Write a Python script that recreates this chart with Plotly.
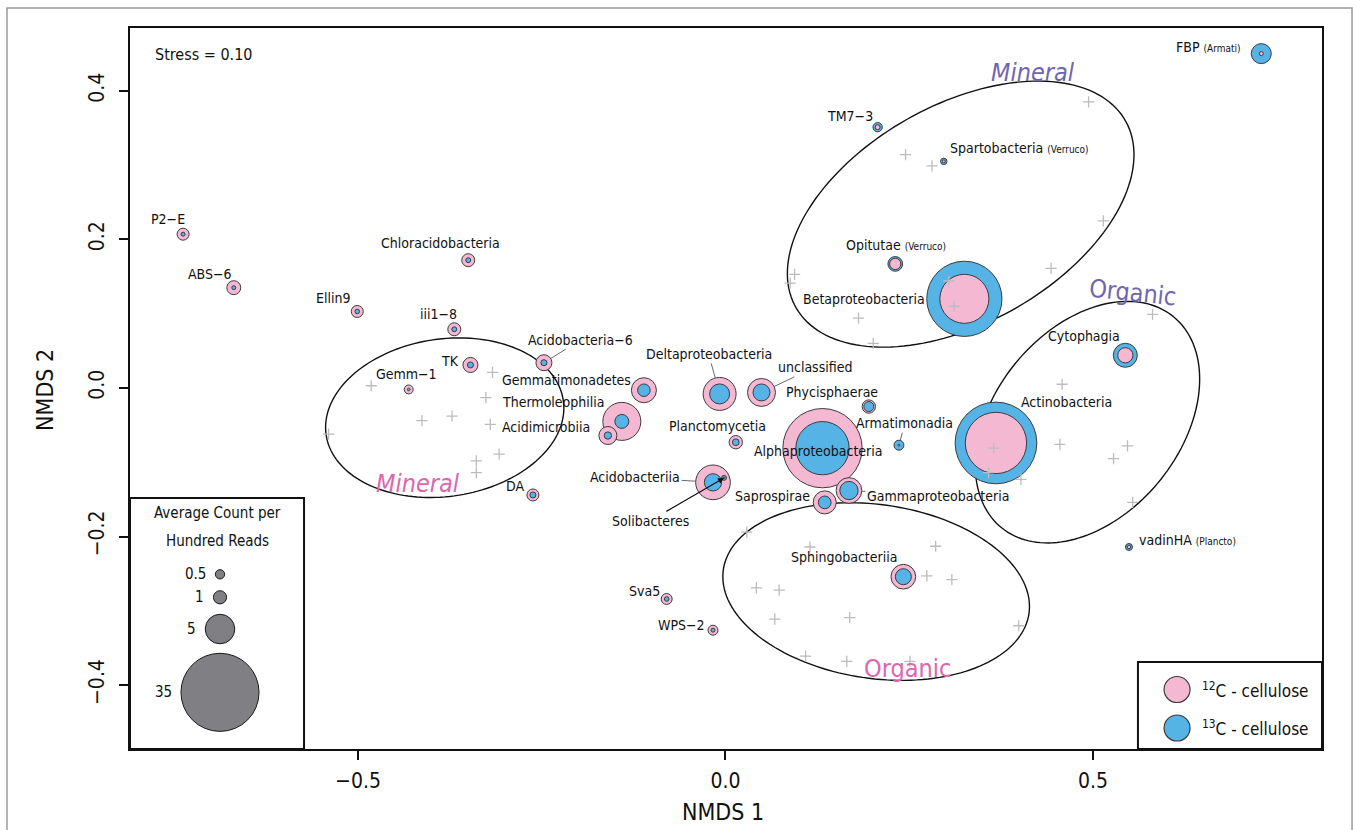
import numpy as np
import plotly.graph_objects as go

# ---------------------------------------------------------------- data
taxa = ["P2−E", "ABS−6", "Ellin9", "Chloracidobacteria", "iii1−8", "TK", "Gemm−1",
        "Acidobacteria−6", "Gemmatimonadetes", "Thermoleophilia", "Acidimicrobiia", "DA",
        "Deltaproteobacteria", "unclassified", "Phycisphaerae", "Planctomycetia",
        "Armatimonadia", "Alphaproteobacteria", "Acidobacteriia", "Solibacteres",
        "Saprospirae", "Gammaproteobacteria", "Sphingobacteriia", "Sva5", "WPS−2",
        "TM7−3", "Spartobacteria", "Opitutae", "Betaproteobacteria", "Cytophagia",
        "Actinobacteria", "vadinHA", "FBP"]
taxon_note = ["", "", "", "", "", "", "", "", "", "", "", "", "", "", "", "", "", "", "",
              "", "", "", "", "", "", "", "(Verruco)", "(Verruco)", "", "", "", "(Plancto)",
              "(Armati)"]
nmds1 = [-0.738, -0.669, -0.501, -0.350, -0.369, -0.347, -0.431, -0.247, -0.111, -0.141,
         -0.160, -0.262, -0.008, 0.049, 0.195, 0.014, 0.236, 0.132, -0.017, -0.002,
         0.135, 0.168, 0.242, -0.080, -0.017, 0.207, 0.297, 0.231, 0.325, 0.544,
         0.368, 0.549, 0.729]
nmds2 = [0.207, 0.135, 0.103, 0.172, 0.079, 0.031, -0.002, 0.034, -0.003, -0.045,
         -0.064, -0.144, -0.008, -0.006, -0.025, -0.073, -0.077, -0.081, -0.127, -0.121,
         -0.154, -0.138, -0.254, -0.284, -0.326, 0.351, 0.305, 0.167, 0.120, 0.044,
         -0.074, -0.214, 0.450]
# average count per hundred reads
count_12c = [0.83, 1.12, 0.83, 0.97, 0.97, 1.29, 0.46, 1.47, 3.59, 8.3, 1.86, 0.83,
             6.25, 4.5, 1.02, 1.02, 0.02, 36.1, 6.9, 0.02, 3.04, 3.79, 3.5, 0.69, 0.57,
             0.14, 0.05, 0.73, 13.8, 1.34, 21.6, 0.07, 0.09]
count_13c = [0.09, 0.09, 0.12, 0.14, 0.14, 0.21, 0.04, 0.21, 0.90, 1.12, 0.31, 0.21,
             2.30, 1.66, 0.57, 0.26, 0.57, 16.3, 1.72, 0.14, 0.93, 1.92, 1.47, 0.12, 0.09,
             0.50, 0.24, 1.24, 32.5, 3.31, 38.3, 0.28, 2.30]

# sample scores
sample_x = [-0.482, -0.317, -0.326, -0.413, -0.372, -0.320, -0.540, -0.308, -0.339, -0.339,
            0.494, 0.245, 0.281, 0.514, 0.443, 0.094, 0.088, 0.304, 0.311, 0.181, 0.201,
            0.581, 0.458, 0.455, 0.547, 0.528, 0.365, 0.358, 0.402, 0.554,
            0.029, 0.115, 0.286, 0.274, 0.308, 0.042, 0.073, 0.067, 0.169, 0.399, 0.109,
            0.165, 0.251]
sample_y = [0.003, 0.021, -0.013, -0.044, -0.038, -0.049, -0.062, -0.089, -0.098, -0.114,
            0.385, 0.314, 0.299, 0.225, 0.161, 0.153, 0.141, 0.144, 0.110, 0.094, 0.060,
            0.099, 0.005, -0.076, -0.078, -0.095, -0.081, -0.114, -0.123, -0.154,
            -0.194, -0.214, -0.213, -0.253, -0.258, -0.269, -0.272, -0.311, -0.309, -0.320,
            -0.361, -0.368, -0.368]

legend_counts = [0.5, 1, 5, 35]
x_ticks = [-0.5, 0.0, 0.5]
x_tick_text = ["−0.5", "0.0", "0.5"]
y_ticks = [-0.4, -0.2, 0.0, 0.2, 0.4]
y_tick_text = ["−0.4", "−0.2", "0.0", "0.2", "0.4"]

# ---------------------------------------------------------------- style
PINK = "#F5B8D3"
BLUE = "#55B3E6"
EDGE = "#3c3c3c"
PINK_TXT = "#E065AC"
PURPLE_TXT = "#6F66B0"
FONT = "Liberation Sans Narrow, DejaVu Sans Condensed, Roboto, sans-serif"
SIZEREF = 2.0 / 13.2 ** 2      # bubble diameter = 13.2 px * sqrt(count)

# label placement: (dx px, dy px upward, anchor)
label_pos = {
    "P2−E": (-15, 15, "center"), "ABS−6": (-24, 14, "center"), "Ellin9": (-24, 13, "center"),
    "Chloracidobacteria": (-28, 17, "center"), "iii1−8": (-16, 15, "center"),
    "TK": (-20, 4, "center"), "Gemm−1": (-2, 15, "center"),
    "Gemmatimonadetes": (-77, 10, "center"), "Thermoleophilia": (-68, 19, "center"),
    "Acidimicrobiia": (-62, 9, "center"), "DA": (-18, 9, "center"),
    "Phycisphaerae": (-37, 15, "center"), "Planctomycetia": (-18, 16, "center"),
    "Alphaproteobacteria": (-4, -3, "center"), "Saprospirae": (-52, 6, "center"),
    "Sphingobacteriia": (-59, 20, "center"), "Sva5": (-22, 8, "center"),
    "WPS−2": (-31, 5, "center"), "TM7−3": (-28, 11, "center"),
    "Spartobacteria": (4, 13, "left"), "Opitutae": (1, 19, "center"),
    "Betaproteobacteria": (-100, 0, "center"), "Cytophagia": (-41, 19, "center"),
    "Actinobacteria": (71, 41, "center"), "vadinHA": (8, 7, "left"),
    "FBP": (-19, 7, "right"),
}
# labels joined to their bubble by a thin leader line: (ax, ay) in px
leader_pos = {
    "Acidobacteria−6": (37, -23), "Deltaproteobacteria": (-11, -40),
    "unclassified": (53, -25), "Armatimonadia": (6, -22),
    "Acidobacteriia": (-78, -5), "Gammaproteobacteria": (89, 5),
}
arrow_pos = {"Solibacteres": (-74, 43)}

# group ellipses: centre x, centre y, semi-axis a, semi-axis b, angle (deg)
ellipses = [
    (-0.382, -0.040, 0.163, 0.106, 8),
    (0.320, 0.234, 0.257, 0.147, 29),
    (0.4925, -0.046, 0.184, 0.126, 50),
    (0.205, -0.274, 0.210, 0.117, -8),
]
ellipse_labels = [
    ("Mineral", -0.418, -0.128, PINK_TXT, "italic", 0),
    ("Organic", 0.248, -0.377, PINK_TXT, "normal", 0),
    ("Mineral", 0.418, 0.425, PURPLE_TXT, "italic", 0),
    ("Organic", 0.554, 0.128, PURPLE_TXT, "normal", 6),
]


def ellipse_path(cx, cy, a, b, deg, n=160):
    t = np.linspace(0, 2 * np.pi, n)
    th = np.radians(deg)
    xs = cx + a * np.cos(t) * np.cos(th) - b * np.sin(t) * np.sin(th)
    ys = cy + a * np.cos(t) * np.sin(th) + b * np.sin(t) * np.cos(th)
    return "M " + " L ".join(f"{x:.5f},{y:.5f}" for x, y in zip(xs, ys)) + " Z"


def diam(v):
    return np.sqrt(2 * v / SIZEREF)


fig = go.Figure()

# bubbles: biggest taxa first, each with its larger circle beneath the smaller one
c12 = np.array(count_12c)
c13 = np.array(count_13c)
order = np.argsort(-np.maximum(c12, c13), kind="stable")
bx, by, bs, bc = [], [], [], []
for i in order:
    pair = sorted([(c12[i], PINK), (c13[i], BLUE)], key=lambda p: -p[0])
    for v, col in pair:
        bx.append(nmds1[i])
        by.append(nmds2[i])
        bs.append(v)
        bc.append(col)
fig.add_trace(go.Scatter(
    x=bx, y=by, mode="markers", hoverinfo="skip", showlegend=False,
    marker=dict(size=bs, sizemode="area", sizeref=SIZEREF, color=bc, opacity=1,
                line=dict(color=EDGE, width=1)),
))

# sample positions
fig.add_trace(go.Scatter(
    x=sample_x, y=sample_y, mode="markers", hoverinfo="skip", showlegend=False,
    marker=dict(symbol="cross-thin", size=8, line=dict(color="#bcbcbc", width=1.3)),
))

# size key (overlay axes spanning the plot area, 0..1)
key_y = [0.2423, 0.2104, 0.1664, 0.0786]
key_x = 0.0755
fig.add_trace(go.Scatter(
    x=[key_x] * len(legend_counts), y=key_y, xaxis="x2", yaxis="y2",
    mode="markers", hoverinfo="skip", showlegend=False,
    marker=dict(size=legend_counts, sizemode="area", sizeref=SIZEREF, color="#7f7f84",
                opacity=1, line=dict(color="#1a1a1a", width=1)),
))
# colour key
fig.add_trace(go.Scatter(
    x=[0.8784, 0.8784], y=[0.0825, 0.0291], xaxis="x2", yaxis="y2",
    mode="markers", hoverinfo="skip", showlegend=False,
    marker=dict(size=26, color=[PINK, BLUE], opacity=1, line=dict(color=EDGE, width=1.2)),
))

shapes = []
for cx, cy, a, b, deg in ellipses:
    shapes.append(dict(type="path", xref="x", yref="y", path=ellipse_path(cx, cy, a, b, deg),
                       line=dict(color="#111111", width=1.4), layer="below"))
# outer frame of the figure
shapes.append(dict(type="rect", xref="paper", yref="paper", x0=-0.1032, x1=1.0252,
                   y0=-0.14, y1=1.0277, line=dict(color="#9a9a9a", width=1.5), layer="below"))
# key boxes
shapes.append(dict(type="rect", xref="paper", yref="paper", x0=0, x1=0.146, y0=0, y1=0.3481,
                   line=dict(color="#111111", width=2), fillcolor="white", layer="below"))
shapes.append(dict(type="rect", xref="paper", yref="paper", x0=0.8456, x1=1, y0=0, y1=0.1207,
                   line=dict(color="#111111", width=2), fillcolor="white", layer="below"))

ann = []
LBL = dict(family=FONT, size=14, color="#111111")
SMALL = 10
idx = {n: i for i, n in enumerate(taxa)}
for name in taxa:
    i = idx[name]
    text = name
    if taxon_note[i]:
        text = f"{name} <span style='font-size:{SMALL}px'>{taxon_note[i]}</span>"
    if name in label_pos:
        dx, dy, anc = label_pos[name]
        ann.append(dict(x=nmds1[i], y=nmds2[i], xref="x", yref="y", text=text,
                        showarrow=False, xshift=dx, yshift=dy, xanchor=anc,
                        yanchor="middle", font=LBL))
    elif name in leader_pos:
        ax, ay = leader_pos[name]
        r = diam(max(c12[i], c13[i])) / 2
        ann.append(dict(x=nmds1[i], y=nmds2[i], xref="x", yref="y", text=text,
                        showarrow=True, ax=ax, ay=ay, arrowhead=0, arrowwidth=1,
                        arrowcolor="#6a6a6a", standoff=r, font=LBL))
    elif name in arrow_pos:
        ax, ay = arrow_pos[name]
        ann.append(dict(x=nmds1[i], y=nmds2[i], xref="x", yref="y", text=text,
                        showarrow=True, ax=ax, ay=ay, arrowhead=2, arrowsize=1,
                        arrowwidth=1.2, arrowcolor="#111111", font=LBL))

for text, x, y, col, style, ang in ellipse_labels:
    ann.append(dict(x=x, y=y, xref="x", yref="y", text=text, showarrow=False,
                    xanchor="center", yanchor="middle", textangle=ang,
                    font=dict(family=FONT, size=25, color=col, style=style)))


def paper_text(x, y, text, size, xanchor="center", **kw):
    ann.append(dict(x=x, y=y, xref="paper", yref="paper", text=text, showarrow=False,
                    xanchor=xanchor, yanchor="middle",
                    font=dict(family=FONT, size=size, color="#111111"), **kw))


paper_text(0.0193, 0.9626, "Stress = 0.10", 16, xanchor="left")

# size key texts
paper_text(0.0738, 0.3273, "Average Count per", 15)
paper_text(0.0738, 0.2885, "Hundred Reads", 15)
for v, ky in zip(legend_counts, key_y):
    paper_text(key_x, ky, f"{v:g}", 15, xanchor="right", xshift=-(diam(v) / 2 + 7))
# colour key texts
for lab, ky in [("12", 0.0825), ("13", 0.0291)]:
    paper_text(0.8977, ky, f"<sup>{lab}</sup>C - cellulose", 17, xanchor="left")

# axis titles
paper_text(0.4975, -0.0874, "NMDS 1", 23)
paper_text(-0.0713, 0.498, "NMDS 2", 23, textangle=-90)

axis_common = dict(showgrid=False, zeroline=False, showline=True, mirror=True,
                   linecolor="#111111", linewidth=2, ticks="outside", ticklen=9,
                   tickwidth=1.5, tickcolor="#111111",
                   tickfont=dict(family=FONT, size=21, color="#111"))

fig.update_layout(
    width=1360, height=830,
    margin=dict(l=130, r=38, t=28, b=81),
    paper_bgcolor="white", plot_bgcolor="white",
    xaxis=dict(range=[-0.8102, 0.8116], tickvals=x_ticks, ticktext=x_tick_text,
               ticklabelstandoff=3, **axis_common),
    yaxis=dict(range=[-0.4859, 0.4845], tickvals=y_ticks, ticktext=y_tick_text,
               tickangle=-90, ticklabelstandoff=7, **axis_common),
    xaxis2=dict(range=[0, 1], overlaying="x", anchor="y2", visible=False),
    yaxis2=dict(range=[0, 1], overlaying="y", anchor="x2", visible=False),
    shapes=shapes,
    annotations=ann,
    showlegend=False,
)

fig.write_html("out.html")
